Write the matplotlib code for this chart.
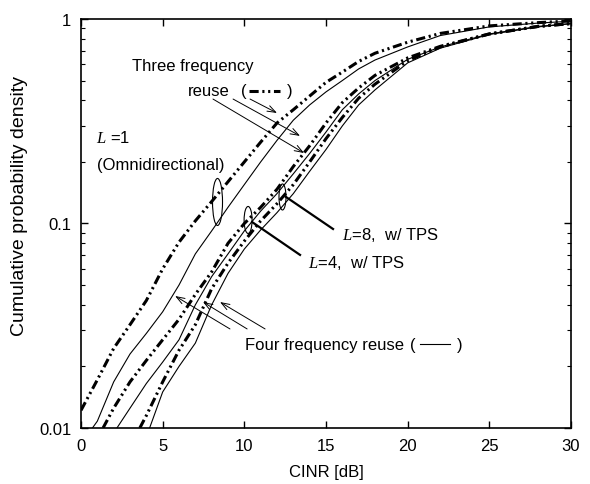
import matplotlib
matplotlib.use("Agg")
import matplotlib.pyplot as plt
from matplotlib.patches import Ellipse

plt.rcParams['font.family'] = ['Liberation Sans', 'DejaVu Sans']
plt.rcParams['font.size'] = 12
plt.rcParams['mathtext.fontset'] = 'custom'
plt.rcParams['mathtext.it'] = 'Liberation Serif:italic'
plt.rcParams['mathtext.rm'] = 'Liberation Sans'

# L=1, three frequency reuse (dash-dot)
x_l1_three = [0, 1, 2, 3, 4, 5, 6, 7, 8, 9, 10, 11, 12, 13, 14, 15, 16, 17, 18, 20, 22, 25, 28, 30]
p_l1_three = [0.0122, 0.0172, 0.0245, 0.032, 0.042, 0.06, 0.081, 0.103, 0.128, 0.16, 0.20, 0.25,
              0.31, 0.36, 0.42, 0.49, 0.55, 0.62, 0.68, 0.77, 0.85, 0.925, 0.96, 0.978]
# L=1, four frequency reuse (solid)
x_l1_four = [0.7, 1, 2, 3, 4, 5, 6, 7, 8, 9, 10, 11, 12, 13, 14, 15, 16, 17, 18, 20, 22, 25, 28, 30]
p_l1_four = [0.01, 0.0108, 0.0168, 0.023, 0.029, 0.037, 0.050, 0.071, 0.092, 0.12, 0.155, 0.20,
             0.255, 0.32, 0.38, 0.44, 0.50, 0.57, 0.63, 0.73, 0.83, 0.915, 0.955, 0.975]
# L=4 w/ TPS, three frequency reuse
x_l4_three = [1.35, 2, 3, 4, 5, 6, 7, 8, 9, 10, 11, 12, 13, 14, 15, 16, 17, 18, 20, 22, 25, 28, 30]
p_l4_three = [0.01, 0.0125, 0.0168, 0.0214, 0.027, 0.034, 0.045, 0.058, 0.08, 0.10, 0.12, 0.147,
              0.19, 0.24, 0.31, 0.39, 0.46, 0.53, 0.645, 0.735, 0.845, 0.92, 0.95]
# L=4 w/ TPS, four frequency reuse
x_l4_four = [2.2, 3, 4, 5, 6, 7, 8, 9, 10, 11, 12, 13, 14, 15, 16, 17, 18, 20, 22, 25, 28, 30]
p_l4_four = [0.01, 0.0125, 0.0165, 0.021, 0.027, 0.040, 0.055, 0.071, 0.092, 0.115, 0.14, 0.175,
             0.22, 0.28, 0.36, 0.43, 0.50, 0.635, 0.73, 0.845, 0.92, 0.95]
# L=8 w/ TPS, three frequency reuse
x_l8_three = [3.6, 4, 5, 6, 7, 8, 9, 10, 11, 12, 13, 14, 15, 16, 17, 18, 20, 22, 25, 28, 30]
p_l8_three = [0.01, 0.0115, 0.0168, 0.024, 0.032, 0.048, 0.064, 0.082, 0.103, 0.125, 0.155, 0.20,
              0.26, 0.33, 0.41, 0.48, 0.625, 0.73, 0.845, 0.92, 0.95]
# L=8 w/ TPS, four frequency reuse
x_l8_four = [4.2, 5, 6, 7, 8, 9, 10, 11, 12, 13, 14, 15, 16, 17, 18, 20, 22, 25, 28, 30]
p_l8_four = [0.01, 0.015, 0.020, 0.026, 0.040, 0.057, 0.075, 0.093, 0.113, 0.14, 0.18, 0.23,
             0.30, 0.38, 0.45, 0.61, 0.72, 0.84, 0.915, 0.948]

xticks = [0, 5, 10, 15, 20, 25, 30]
yticks = [0.01, 0.1, 1]
ytick_labels = ['0.01', '0.1', '1']

dashdotdot = (0, (3, 1.2, 0.7, 1.2, 0.7, 1.2))

fig = plt.figure(figsize=(5.9, 4.85), dpi=100)
ax = fig.add_axes([0.1373, 0.1155, 0.8305, 0.8433])

for xs, ps in [(x_l1_three, p_l1_three), (x_l4_three, p_l4_three), (x_l8_three, p_l8_three)]:
    ax.plot(xs, ps, color='black', lw=2.2, linestyle=dashdotdot)
for xs, ps in [(x_l1_four, p_l1_four), (x_l4_four, p_l4_four), (x_l8_four, p_l8_four)]:
    ax.plot(xs, ps, color='black', lw=0.8)

ax.set_yscale('log')
ax.set_xlim(0, 30)
ax.set_ylim(0.01, 1)
ax.set_xticks(xticks)
ax.set_yticks(yticks)
ax.set_yticklabels(ytick_labels)
ax.tick_params(which='both', direction='in', top=True, right=True)
ax.tick_params(which='major', length=5, width=1, pad=7)
ax.tick_params(which='minor', length=3, width=0.8)
for s in ax.spines.values():
    s.set_linewidth(1.2)

ax.set_xlabel('CINR [dB]', labelpad=8)
ax.set_ylabel('Cumulative probability density', fontsize=14)
ax.yaxis.set_label_coords(-0.108, 0.545)

# group ellipses
for cx, cy, w, h in [(0.2786, 0.5526, 0.0204, 0.115), (0.341, 0.5086, 0.0163, 0.066),
                     (0.4112, 0.5648, 0.0143, 0.0636)]:
    ax.add_patch(Ellipse((cx, cy), w, h, transform=ax.transAxes, fill=False, lw=0.8))

# labels
ax.text(0.92, 0.265, '$L$ =1', va='center', ha='left')
ax.text(0.98, 0.195, '(Omnidirectional)', va='center', ha='left')

ax.text(6.86, 0.589, 'Three frequency', va='center', ha='center')
ax.text(6.55, 0.445, 'reuse', va='center', ha='left')
ax.text(9.8, 0.445, '(', va='center', ha='left')
ax.plot([10.29, 12.19], [0.445, 0.445], color='black', lw=2.2, linestyle=dashdotdot)
ax.text(12.6, 0.445, ')', va='center', ha='left')

ax.text(10.04, 0.0257, 'Four frequency reuse', va='center', ha='left')
ax.text(20.15, 0.0257, '(', va='center', ha='left')
ax.plot([20.76, 22.6], [0.0257, 0.0257], color='black', lw=0.8)
ax.text(23.03, 0.0257, ')', va='center', ha='left')

arrow = dict(arrowstyle='->,head_length=0.5,head_width=0.18', lw=0.7, color='black',
             shrinkA=0, shrinkB=0)
for tail, head in [((10.35, 0.406), (12.0, 0.347)), ((9.31, 0.406), (13.41, 0.268)),
                   ((8.08, 0.406), (13.66, 0.221))]:
    ax.annotate('', xy=head, xytext=tail, arrowprops=arrow)
for tail, head in [((9.12, 0.0305), (5.76, 0.0442)), ((10.17, 0.0305), (7.47, 0.0413)),
                   ((11.27, 0.0305), (8.51, 0.0413))]:
    ax.annotate('', xy=head, xytext=tail, arrowprops=arrow)

ax.plot([12.55, 15.43], [0.1348, 0.094], color='black', lw=1.6)
ax.text(15.98, 0.0889, '$L$=8,  w/ TPS', va='center', ha='left')
ax.plot([10.47, 13.41], [0.1017, 0.0702], color='black', lw=1.6)
ax.text(13.9, 0.0648, '$L$=4,  w/ TPS', va='center', ha='left')

fig.savefig('out.png', dpi=100)
